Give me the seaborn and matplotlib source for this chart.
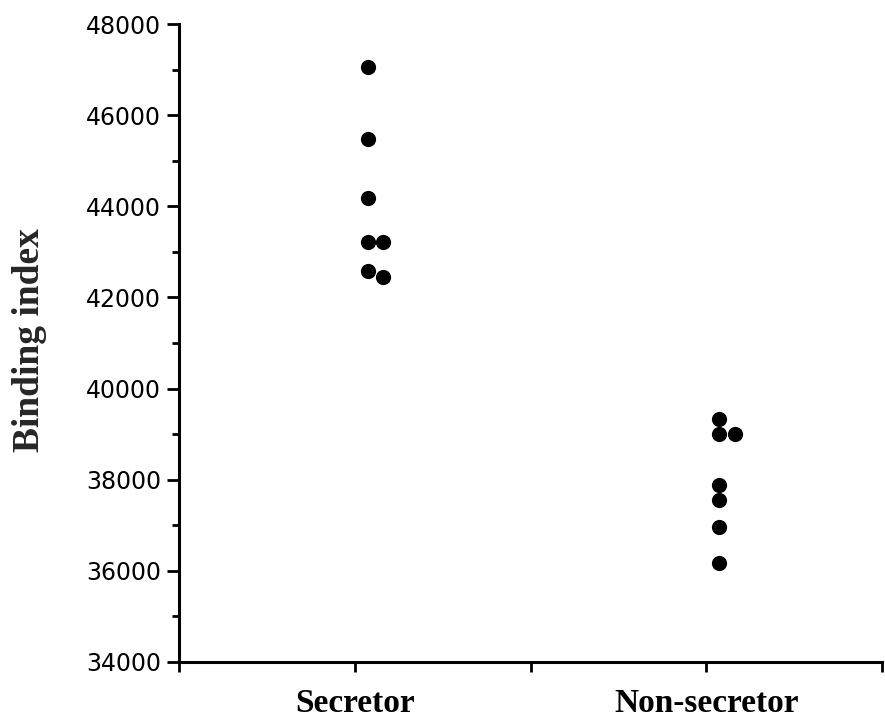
import numpy as np
import pandas as pd
import matplotlib
matplotlib.use("Agg")
import matplotlib.pyplot as plt
import seaborn as sns

# ---- data ----
groups = ["Secretor", "Non-secretor"]
secretor = [47050, 45480, 44190, 43210, 43210, 42570, 42440]
secretor_slot = [0, 0, 0, 0, 1, 0, 1]
non_secretor = [39340, 39000, 39000, 37890, 37550, 36960, 36170]
non_secretor_slot = [0, 0, 1, 0, 0, 0, 0]
y_ticks = [34000, 36000, 38000, 40000, 42000, 44000, 46000, 48000]

rows = []
for g, vals, slots in [(groups[0], secretor, secretor_slot),
                       (groups[1], non_secretor, non_secretor_slot)]:
    for v, s in zip(vals, slots):
        rows.append({"group": g, "value": v, "slot": s})
df = pd.DataFrame(rows)
df["code"] = df["group"].map({g: i for i, g in enumerate(groups)})
# points sit slightly right of the category tick, side-by-side when tied
df["xpos"] = df["code"] + 0.037 + df["slot"] * 0.044

sns.set_style("white")
fig = plt.figure(figsize=(8.85, 7.23), dpi=100)
ax = fig.add_axes([0.2023, 0.0844, 0.7943, 0.8824])

sns.scatterplot(data=df, x="xpos", y="value", color="black", s=120,
                linewidth=0, ax=ax, legend=False, zorder=3)

ax.set_xlim(-0.5, 1.5)
ax.set_ylim(34000, 48000)
ax.set_yticks(y_ticks)
ax.set_yticklabels([str(t) for t in y_ticks], fontsize=17, family="DejaVu Sans")
ax.set_yticks(np.arange(35000, 48000, 2000), minor=True)
ax.set_xticks([-0.5, 0, 0.5, 1, 1.5])
ax.set_xticklabels(["", groups[0], "", groups[1], ""],
                   fontsize=24, fontweight="bold", family="Liberation Serif")
ax.set_xlabel("")
ax.set_ylabel("Binding index", fontsize=27, fontweight="bold",
              family="Liberation Serif")
ax.yaxis.set_label_coords(-0.188, 0.505)

for side in ["top", "right"]:
    ax.spines[side].set_visible(False)
for side in ["left", "bottom"]:
    ax.spines[side].set_linewidth(2.2)
    ax.spines[side].set_color("black")

ax.tick_params(axis="y", which="major", direction="out", length=9, width=2,
               colors="black", pad=4, left=True)
ax.tick_params(axis="y", which="minor", direction="out", length=5, width=2,
               colors="black", left=True)
ax.tick_params(axis="x", which="major", direction="out", length=7, width=2,
               colors="black", pad=12, bottom=True)

fig.savefig("out.png", dpi=100)
